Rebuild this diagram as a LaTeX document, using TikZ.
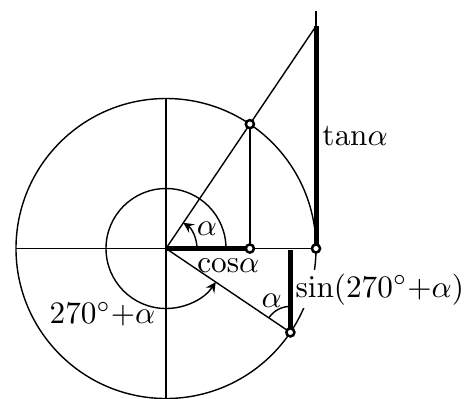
\documentclass[tikz,border=0pt]{standalone}
\usepackage{amsmath}
\begin{document}
\begin{tikzpicture}[>=stealth, x=0.32pt, y=0.32pt, line width=0.45pt,
  bar/.style={line width=1.6pt},
  dot/.style={circle, draw, fill=white, line width=0.8pt, inner sep=0pt, minimum size=2.6pt},
  lbl/.style={anchor=base, inner sep=0pt}]
\useasboundingbox (-166,-149.5) rectangle (305,248.5);
\coordinate (O) at (0,0);
\coordinate (P) at (56:150);
\coordinate (C) at (P |- O);
\coordinate (A) at (150,0);
\coordinate (T) at (150,222.4);
\coordinate (Ttop) at (150,238);
\coordinate (Q) at (326:150);
\coordinate (S) at ([yshift=-0.5pt]Q |- O);
\coordinate (L) at (-150,0);
\coordinate (U) at (0,150);
\coordinate (D) at (0,-150);
% circle and axes
\draw (O) circle[radius=150];
\draw (L) -- (A);
\draw (U) -- (D);
% labels
\node[lbl, fill=white, inner sep=1pt] (sinlbl) at (213.8,-48.5) {$\mathrm{sin}(270^\circ{+}\alpha)$};
\node[lbl] (tanlbl) at (189,103) {$\mathrm{tan}\alpha$};
\node[lbl] (coslbl) at (62.3,-23.7) {$\mathrm{cos}\alpha$};
\node[lbl] (anglbl) at (-63.5,-75.3) {$270^\circ{+}\alpha$};
\node[lbl] (a1) at (41,13) {$\alpha$};
\node[lbl] (a2) at (105.7,-58.7) {$\alpha$};
% lines
\draw (O) -- (T);
\draw (P) -- (C);
\draw (O) -- (Q);
\draw (T) -- (Ttop);
\draw[bar] (O) -- (C);
\draw[bar] (A) -- (T);
\draw[bar] (S) -- (Q);
% angles
\draw[->] (31,0) arc[start angle=0, end angle=56, radius=31];
\draw[->] (60,0) arc[start angle=0, end angle=326, radius=60];
\draw ([shift={(146:26)}]Q) arc[start angle=146, end angle=90, radius=26];
% points
\node[dot] (dP) at (P) {};
\node[dot] (dC) at (C) {};
\node[dot] (dA) at (A) {};
\node[dot] (dQ) at (Q) {};
\end{tikzpicture}
\end{document}
